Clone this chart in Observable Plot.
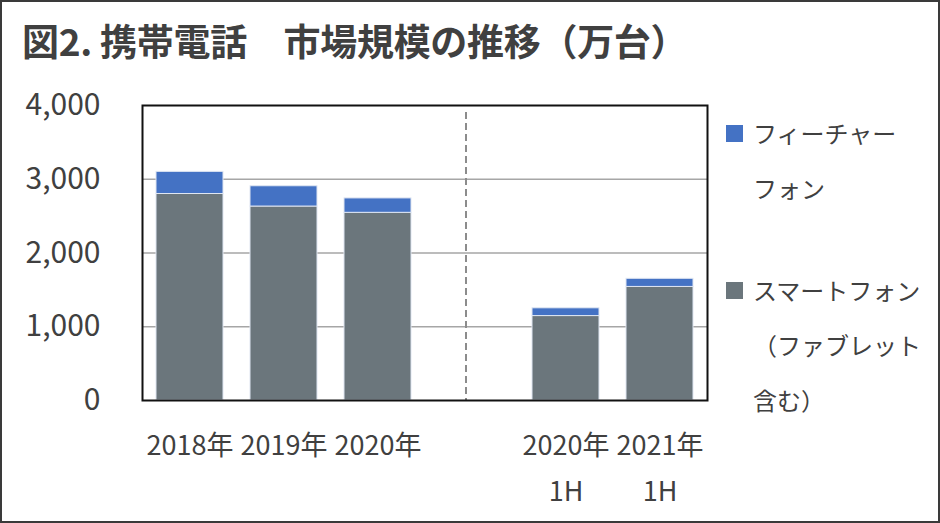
<!DOCTYPE html>
<html><head><meta charset="utf-8">
<script src="https://cdn.jsdelivr.net/npm/d3@7"></script>
<script src="https://cdn.jsdelivr.net/npm/@observablehq/plot@0.6"></script>
<style>
html,body{margin:0;padding:0;background:#fff;overflow:hidden;}
#wrap{position:relative;width:940px;height:523px;font-family:"Noto Sans CJK JP","Noto Sans",sans-serif;color:#404040;}
#title{position:absolute;left:22px;top:13px;font-size:37px;font-weight:bold;color:#404040;white-space:pre;letter-spacing:-0.3px;}
#chart{position:absolute;left:0;top:0;}
#legend{position:absolute;left:726px;top:0;}
.item{position:absolute;font-size:24px;line-height:55px;white-space:pre;color:#404040;}
.sw{position:absolute;width:17px;height:17px;}
#border{position:absolute;left:0;top:0;width:936px;height:519px;border:2px solid #3a3a3a;pointer-events:none;}
</style></head>
<body><div id="wrap"><div id="title">図2. 携帯電話　市場規模の推移（万台）</div><div id="chart"></div><div id="legend"></div><div id="border"></div></div>
<script>
const categories = ["2018年","2019年","2020年","2020年\n1H","2021年\n1H"];
const gapKey = " ";
const xDomain = ["2018年","2019年","2020年",gapKey,"2020年\n1H","2021年\n1H"];
const seriesNames = ["スマートフォン（ファブレット含む）","フィーチャーフォン"];
const smartphone = [2800, 2630, 2545, 1145, 1540];
const featurephone = [300, 275, 195, 105, 110];
const yTicks = [0, 1000, 2000, 3000, 4000];
const colors = ["#6b767c", "#4472c4"];
const legendLabels = [["フィーチャー","フォン"],["スマートフォン","（ファブレット","含む）"]];

const data = [];
categories.forEach((c,i)=>{
  data.push({cat:c, series:seriesNames[0], value:smartphone[i]});
  data.push({cat:c, series:seriesNames[1], value:featurephone[i]});
});

const chart = Plot.plot({
  width: 940, height: 523,
  marginTop: 105, marginBottom: 123, marginLeft: 142, marginRight: 233,
  style:{fontFamily:'"Noto Sans CJK JP","Noto Sans",sans-serif', color:"#404040", background:"transparent"},
  x:{domain:xDomain, paddingInner:0.29, paddingOuter:0.15, axis:null, label:null},
  y:{domain:[0,4000], ticks:yTicks, axis:null, label:null},
  color:{domain:seriesNames, range:colors},
  marks:[
    Plot.gridY(yTicks.filter(t=>t>0 && t<4000), {stroke:"#a6a6a6", strokeOpacity:1, strokeWidth:1.5}),
    Plot.ruleX([gapKey], {x:d=>d, dx:-6, stroke:"#8c8c8c", strokeWidth:2, strokeDasharray:"7,4", insetTop:7}),
    Plot.barY(data, Plot.stackY({order:seriesNames, x:"cat", y:"value", fill:"series", stroke:"#dfe6f2", strokeWidth:1})),
    Plot.frame({stroke:"#111", strokeWidth:2}),
    Plot.axisY({ticks:yTicks, tickFormat:d3.format(","), tickSize:0, tickPadding:42, fontSize:30, fill:"#404040", label:null}),
    Plot.axisX({domain:xDomain, tickFormat:d=>d, tickSize:0, tickPadding:22, fontSize:27, lineHeight:1.7, fill:"#404040", label:null})
  ]
});
document.getElementById("chart").appendChild(chart);

const legend = document.getElementById("legend");
const order = [1,0];
const tops = [105, 262];
order.forEach((si,k)=>{
  const sw = document.createElement("div");
  sw.className="sw"; sw.style.background=colors[si]; sw.style.left="0px"; sw.style.top=(tops[k]+20)+"px";
  legend.appendChild(sw);
  legendLabels[k].forEach((t,j)=>{
    const d=document.createElement("div");
    d.className="item"; d.textContent=t; d.style.left="27px"; d.style.top=(tops[k]+j*55)+"px";
    legend.appendChild(d);
  });
});
</script></body></html>
